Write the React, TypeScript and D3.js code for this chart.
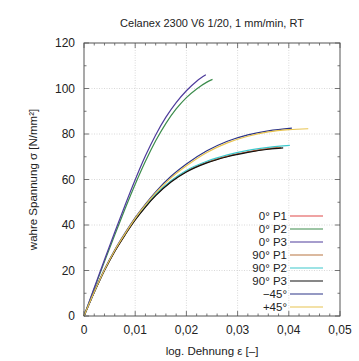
import * as d3 from "d3";
import { useEffect, useRef } from "react";

const TITLE = "Celanex 2300 V6 1/20, 1 mm/min, RT";
const X_TICKS = [0, 0.01, 0.02, 0.03, 0.04, 0.05];
const X_TICK_LABELS = ["0", "0,01", "0,02", "0,03", "0,04", "0,05"];
const Y_TICKS = [0, 20, 40, 60, 80, 100, 120];

const LEGEND_LABELS = ["0° P1", "0° P2", "0° P3", "90° P1", "90° P2", "90° P3", "−45°", "+45°"];
const LEGEND_COLORS = ["#e04848", "#3c8c4c", "#4e3c9c", "#b87440", "#3cc8cc", "#111111", "#2c3488", "#e8c450"];

// strain / stress per series
const EPS_0P1 = [0, 0.002, 0.004, 0.006, 0.008, 0.01, 0.012, 0.014, 0.017, 0.02, 0.024, 0.028, 0.032, 0.036, 0.0378];
const SIG_0P1 = [0, 10.5, 20.2, 28.6, 35.8, 42.5, 48.2, 53.2, 59.2, 63.6, 67.6, 70.3, 72.2, 73.6, 74.0];
const EPS_0P2 = [0, 0.002, 0.004, 0.006, 0.008, 0.01, 0.012, 0.014, 0.016, 0.018, 0.02, 0.022, 0.024, 0.0251];
const SIG_0P2 = [0, 12.0, 23.9, 35.6, 47.0, 57.9, 68.0, 77.0, 84.7, 91.0, 96.0, 99.8, 102.8, 104.0];
const EPS_0P3 = [0, 0.002, 0.004, 0.006, 0.008, 0.01, 0.012, 0.014, 0.016, 0.018, 0.02, 0.022, 0.0238];
const SIG_0P3 = [0, 12.4, 24.7, 36.8, 48.6, 59.9, 70.4, 79.6, 87.4, 93.8, 99.0, 103.2, 106.0];
const EPS_90P1 = [0, 0.002, 0.004, 0.006, 0.008, 0.01, 0.012, 0.014, 0.017, 0.02, 0.024, 0.028, 0.032, 0.036, 0.0385];
const SIG_90P1 = [0, 10.5, 20.1, 28.5, 35.7, 42.4, 48.1, 53.1, 59.1, 63.5, 67.5, 70.2, 72.1, 73.5, 74.0];
const EPS_90P2 = [0, 0.002, 0.004, 0.006, 0.008, 0.01, 0.012, 0.014, 0.017, 0.02, 0.024, 0.028, 0.032, 0.036, 0.0402];
const SIG_90P2 = [0, 10.5, 20.2, 28.7, 35.9, 42.7, 48.4, 53.5, 59.5, 64.0, 68.0, 70.8, 72.8, 74.1, 75.0];
const EPS_90P3 = [0, 0.002, 0.004, 0.006, 0.008, 0.01, 0.012, 0.014, 0.017, 0.02, 0.024, 0.028, 0.032, 0.036, 0.0389];
const SIG_90P3 = [0, 10.4, 20.0, 28.4, 35.6, 42.2, 47.9, 52.9, 58.9, 63.3, 67.3, 70.0, 71.9, 73.3, 73.9];
const EPS_M45 = [0, 0.002, 0.004, 0.006, 0.008, 0.01, 0.012, 0.014, 0.017, 0.02, 0.024, 0.028, 0.032, 0.036, 0.0406];
const SIG_M45 = [0, 10.6, 20.5, 29.0, 36.4, 43.2, 49.2, 54.6, 61.4, 66.8, 72.6, 76.8, 79.6, 81.4, 82.6];
const EPS_P45 = [0, 0.002, 0.004, 0.006, 0.008, 0.01, 0.012, 0.014, 0.017, 0.02, 0.024, 0.028, 0.032, 0.036, 0.04, 0.0438];
const SIG_P45 = [0, 10.5, 20.3, 28.8, 36.1, 42.9, 48.8, 54.1, 60.7, 66.0, 71.9, 76.1, 79.0, 80.9, 81.9, 82.3];

const SERIES = [
	[EPS_0P1, SIG_0P1],
	[EPS_0P2, SIG_0P2],
	[EPS_0P3, SIG_0P3],
	[EPS_90P1, SIG_90P1],
	[EPS_90P2, SIG_90P2],
	[EPS_90P3, SIG_90P3],
	[EPS_M45, SIG_M45],
	[EPS_P45, SIG_P45],
];

const FONT = "'Liberation Sans', Arial, sans-serif";

export default function App() {
	const svgRef = useRef<SVGSVGElement>(null);

	useEffect(() => {
		if (!svgRef.current) return;
		const width = 359;
		const height = 361;
		const m = { left: 84, right: 19, top: 43, bottom: 45 };
		const svg = d3.select(svgRef.current);
		svg.selectAll("*").remove();
		svg.attr("width", width).attr("height", height);

		const x = d3.scaleLinear().domain([0, 0.05]).range([m.left, width - m.right]);
		const y = d3.scaleLinear().domain([0, 120]).range([height - m.bottom, m.top]);
		const [x0, x1] = x.range();
		const [y0, y1] = y.range();

		svg.append("rect").attr("width", width).attr("height", height).attr("fill", "#fff");

		// grid
		const grid = svg.append("g").attr("stroke", "#c8c8c8").attr("stroke-width", 0.7).attr("stroke-dasharray", "1,1.5");
		X_TICKS.slice(1, -1).forEach((t) => {
			grid.append("line").attr("x1", x(t)).attr("x2", x(t)).attr("y1", y0).attr("y2", y1);
		});
		Y_TICKS.slice(1, -1).forEach((t) => {
			grid.append("line").attr("x1", x0).attr("x2", x1).attr("y1", y(t)).attr("y2", y(t));
		});

		// ticks (inward, mirrored)
		const ticks = svg.append("g").attr("stroke", "#555").attr("stroke-width", 0.8);
		d3.range(0, 0.05001, 0.002).forEach((t, i) => {
			const len = i % 5 === 0 ? 5 : 2.5;
			ticks.append("line").attr("x1", x(t)).attr("x2", x(t)).attr("y1", y0).attr("y2", y0 - len);
			ticks.append("line").attr("x1", x(t)).attr("x2", x(t)).attr("y1", y1).attr("y2", y1 + len);
		});
		d3.range(0, 121, 10).forEach((t, i) => {
			const len = i % 2 === 0 ? 5 : 2.5;
			ticks.append("line").attr("x1", x0).attr("x2", x0 + len).attr("y1", y(t)).attr("y2", y(t));
			ticks.append("line").attr("x1", x1).attr("x2", x1 - len).attr("y1", y(t)).attr("y2", y(t));
		});

		// curves
		const line = d3
			.line<[number, number]>()
			.x((d) => x(d[0]))
			.y((d) => y(d[1]))
			.curve(d3.curveMonotoneX);
		SERIES.forEach(([eps, sig], i) => {
			const pts = eps.map((e, j) => [e, sig[j]] as [number, number]);
			svg
				.append("path")
				.attr("d", line(pts))
				.attr("fill", "none")
				.attr("stroke", LEGEND_COLORS[i])
				.attr("stroke-width", 1.2);
		});

		// frame
		svg
			.append("rect")
			.attr("x", x0)
			.attr("y", y1)
			.attr("width", x1 - x0)
			.attr("height", y0 - y1)
			.attr("fill", "none")
			.attr("stroke", "#555")
			.attr("stroke-width", 1);

		// tick labels
		const txt = svg.append("g").attr("font-family", FONT).attr("fill", "#222");
		X_TICKS.forEach((t, i) => {
			txt
				.append("text")
				.attr("x", x(t))
				.attr("y", y0 + 18)
				.attr("text-anchor", "middle")
				.attr("font-size", 12)
				.text(X_TICK_LABELS[i]);
		});
		Y_TICKS.forEach((t) => {
			txt
				.append("text")
				.attr("x", x0 - 9)
				.attr("y", y(t))
				.attr("dy", "0.35em")
				.attr("text-anchor", "end")
				.attr("font-size", 12)
				.text(t);
		});

		// titles
		txt
			.append("text")
			.attr("x", (x0 + x1) / 2)
			.attr("y", 27)
			.attr("text-anchor", "middle")
			.attr("font-size", 11)
			.text(TITLE);
		txt
			.append("text")
			.attr("x", (x0 + x1) / 2)
			.attr("y", 355)
			.attr("text-anchor", "middle")
			.attr("font-size", 11.5)
			.text("log. Dehnung ε [–]");
		txt
			.append("text")
			.attr("transform", `translate(37,${(y0 + y1) / 2}) rotate(-90)`)
			.attr("text-anchor", "middle")
			.attr("font-size", 11.5)
			.text("wahre Spannung σ [N/mm²]");

		// legend
		const lg = svg.append("g").attr("font-family", FONT);
		LEGEND_LABELS.forEach((lab, i) => {
			const ly = 216 + i * 13;
			lg.append("text")
				.attr("x", 287)
				.attr("y", ly)
				.attr("dy", "0.35em")
				.attr("text-anchor", "end")
				.attr("font-size", 11.5)
				.attr("fill", "#222")
				.text(lab);
			lg.append("line")
				.attr("x1", 290)
				.attr("x2", 323)
				.attr("y1", ly)
				.attr("y2", ly)
				.attr("stroke", LEGEND_COLORS[i])
				.attr("stroke-width", 1.2);
		});
	}, []);

	return (
		<div style={{ position: "absolute", left: 0, top: 0 }}>
			<svg ref={svgRef} style={{ display: "block" }} />
		</div>
	);
}
